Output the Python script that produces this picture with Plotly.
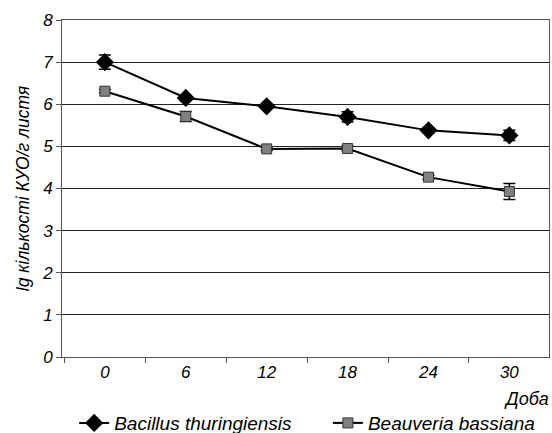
import plotly.graph_objects as go

days = ["0", "6", "12", "18", "24", "30"]
bt_values = [7.0, 6.15, 5.95, 5.70, 5.38, 5.26]
bt_errors = [0.17, 0.06, 0.04, 0.12, 0.05, 0.12]
bb_values = [6.31, 5.71, 4.94, 4.95, 4.27, 3.93]
bb_errors = [0.04, 0.12, 0.04, 0.06, 0.05, 0.19]
y_ticks = [0, 1, 2, 3, 4, 5, 6, 7, 8]

FONT = "Liberation Sans, Arial, sans-serif"

fig = go.Figure()
fig.add_trace(go.Scatter(
    x=days, y=bt_values, name="Bacillus thuringiensis",
    mode="lines+markers", legend="legend",
    line=dict(color="black", width=2),
    marker=dict(symbol="diamond", size=14, color="black"),
    error_y=dict(type="data", array=bt_errors, color="black", thickness=1.5, width=6),
))
fig.add_trace(go.Scatter(
    x=days, y=bb_values, name="Beauveria bassiana",
    mode="lines+markers", legend="legend2",
    line=dict(color="black", width=2),
    marker=dict(symbol="square", size=10, color="#808080", line=dict(color="#333333", width=1)),
    error_y=dict(type="data", array=bb_errors, color="black", thickness=1.5, width=6),
))

legend_font = dict(family=FONT, size=19, style="italic")
fig.update_layout(
    width=552, height=433,
    margin=dict(l=62, r=3, t=20, b=76, autoexpand=False),
    paper_bgcolor="white", plot_bgcolor="white",
    font=dict(family=FONT, size=17, color="black"),
    showlegend=True,
    legend=dict(orientation="h", x=0.025, xanchor="left", y=-0.196, yanchor="middle",
                font=legend_font, bgcolor="rgba(0,0,0,0)"),
    legend2=dict(orientation="h", x=0.546, xanchor="left", y=-0.196, yanchor="middle",
                 font=legend_font, bgcolor="rgba(0,0,0,0)"),
    xaxis=dict(
        type="category", range=[-0.53, 5.49], tickson="boundaries", ticks="outside", ticklen=5,
        tickcolor="#555555", showline=True, linecolor="#555555", linewidth=1,
        mirror=True, showgrid=False,
        tickfont=dict(family=FONT, size=17, style="italic"),
    ),
    yaxis=dict(
        range=[0, 8], tickvals=y_ticks, ticks="outside", ticklen=5,
        tickcolor="#555555", showline=True, linecolor="#555555", linewidth=1,
        mirror=True, showgrid=True, gridcolor="#222222", gridwidth=1,
        zeroline=False,
        tickfont=dict(family=FONT, size=17, style="italic"),
        title=dict(text="lg кількості КУО/г листя", standoff=8,
                   font=dict(family=FONT, size=17.5, style="italic")),
    ),
    annotations=[dict(text="Доба", xref="paper", yref="paper", x=1.0, y=-0.125,
                      xanchor="right", yanchor="middle", showarrow=False, xshift=2,
                      font=dict(family=FONT, size=18, style="italic"))],
)

fig.write_html("out.html", config={"displayModeBar": False},
               post_script="document.body.style.margin='0';")
